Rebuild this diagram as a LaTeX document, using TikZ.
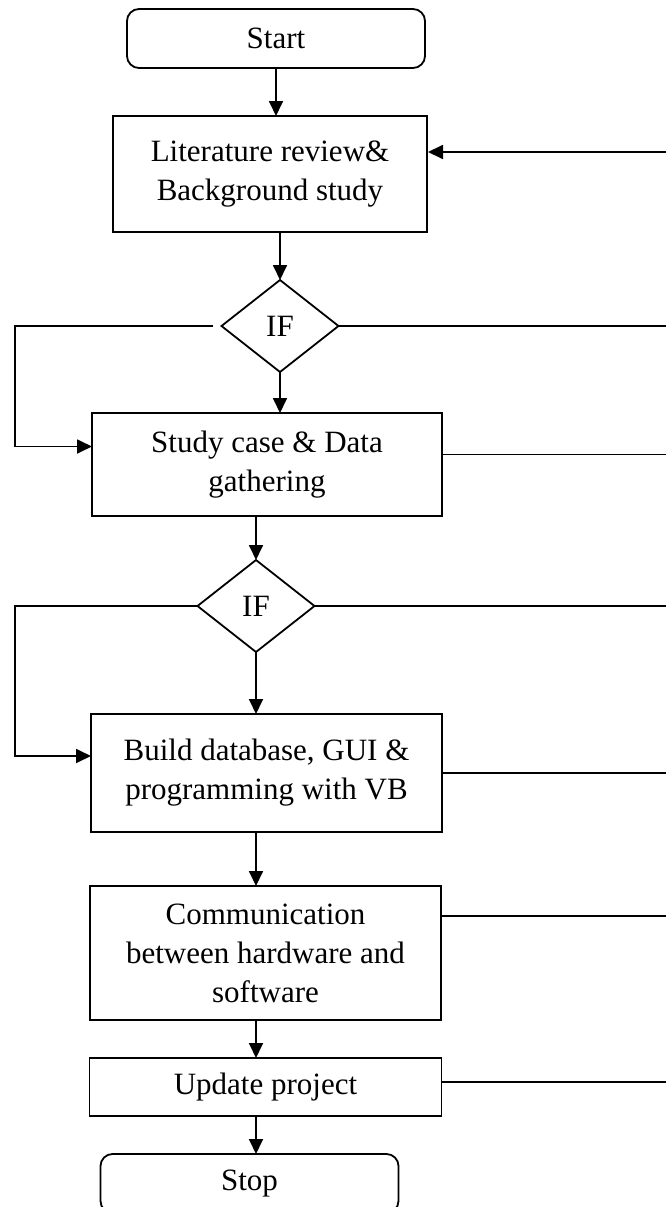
\documentclass[tikz,border=0pt]{standalone}
\usepackage{fontspec}
\setmainfont{Liberation Serif}
\usepackage{tikz}
\usetikzlibrary{shapes.geometric,arrows.meta,positioning}

\begin{document}
\begin{tikzpicture}[
    node distance=48pt,
    every node/.style={font=\fontsize{31}{39}\selectfont},
    term/.style={rectangle, draw, rounded corners=12pt, minimum width=298pt, minimum height=59pt, inner sep=0pt, outer sep=0pt},
    proc/.style={rectangle, draw, minimum width=351pt, align=center, inner sep=0pt, outer sep=0pt},
    cond/.style={diamond, draw, minimum width=117pt, minimum height=92pt, inner sep=0pt, outer sep=0pt},
    arrow/.style={-{Triangle[length=15pt,width=14pt]}},
    line width=1.8pt
]
    \useasboundingbox (0,0) rectangle (666pt,-1207pt);

    \node[term] (start) at (276pt,-38.5pt) {Start};
    \node[proc, minimum width=314pt, minimum height=116pt, below=48pt of start, xshift=-6pt] (lit) {Literature review\&\\Background study};
    \node[cond, below=48pt of lit, xshift=10pt] (if1) {IF};
    \node[proc, minimum width=350pt, minimum height=103pt, below=41pt of if1, xshift=-13pt] (study) {Study case \& Data\\gathering};
    \node[cond, below=44pt of study, xshift=-11pt] (if2) {IF};
    \node[proc, minimum height=118pt, below=62pt of if2, xshift=10.5pt] (build) {Build database, GUI \&\\programming with VB};
    \node[proc, minimum height=134pt, below=54pt of build, xshift=-1pt] (comm) {Communication\\between hardware and\\software};
    \node[proc, minimum width=352pt, minimum height=58pt, below=38pt of comm] (update) {Update project};
    \node[term, below=38pt of update, xshift=-16pt] (stop) {Stop};

    % loop ends
    \coordinate (lft) at (15pt,0);
    \coordinate (rgt) at (666pt,0);
    \coordinate (litin) at ([yshift=22pt]lit.east);
    \coordinate (studyin) at ([yshift=18pt]study.west);
    \coordinate (studyout) at ([yshift=10pt]study.east);
    \coordinate (buildin) at ([yshift=17pt]build.west);
    \coordinate (commout) at ([yshift=37pt]comm.east);
    \coordinate (updout) at ([yshift=5pt]update.east);

    \draw[arrow] (start.south) -- (start.south |- lit.north);
    \draw[arrow] (lit.south -| if1.north) -- (if1.north);
    \draw[arrow] (if1.south) -- (if1.south |- study.north);
    \draw[arrow] (study.south -| if2.north) -- (if2.north);
    \draw[arrow] (if2.south) -- (if2.south |- build.north);
    \draw[arrow] (build.south -| if2.south) -- (comm.north -| if2.south);
    \draw[arrow] (comm.south -| if2.south) -- (update.north -| if2.south);
    \draw[arrow] (update.south -| if2.south) -- (stop.north -| if2.south);

    \draw[arrow] ([xshift=-9pt]if1.west) -- (if1.west -| lft) |- (studyin);
    \draw[arrow] (if2.west) -- (if2.west -| lft) |- (buildin);

    \draw[arrow, shorten >=1pt] (litin -| rgt) -- (litin);
    \draw (if1.east) -- (if1.east -| rgt);
    \draw (studyout) -- (studyout -| rgt);
    \draw (if2.east) -- (if2.east -| rgt);
    \draw (build.east) -- (build.east -| rgt);
    \draw (commout) -- (commout -| rgt);
    \draw (updout) -- (updout -| rgt);
\end{tikzpicture}
\end{document}
